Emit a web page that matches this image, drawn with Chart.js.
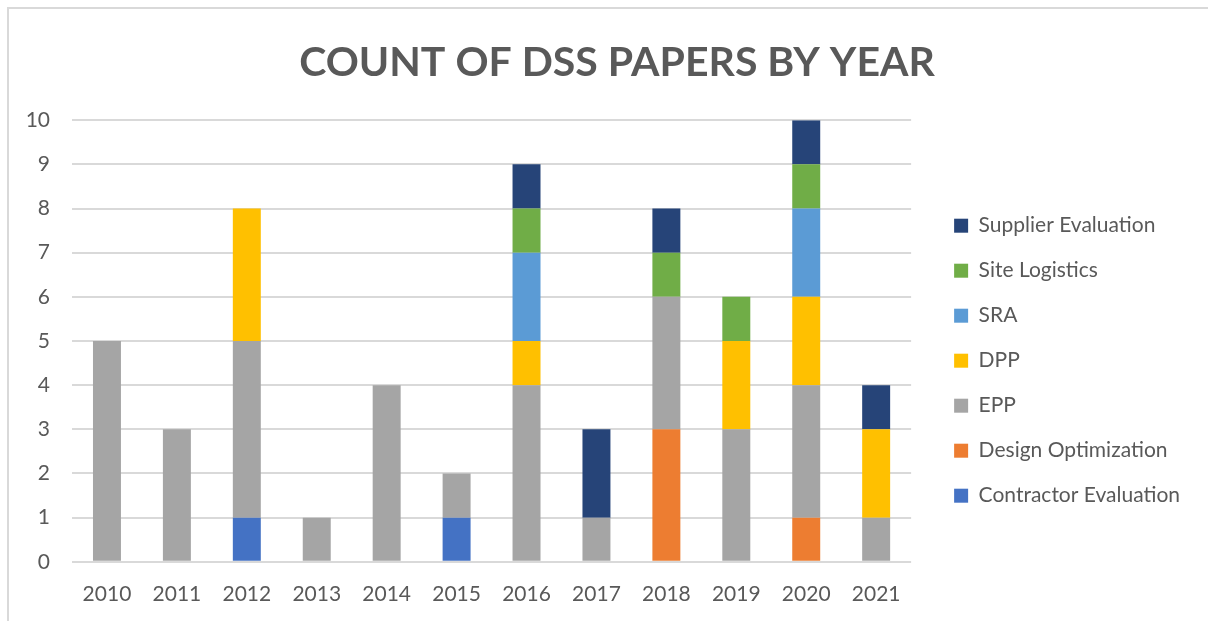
<!DOCTYPE html>
<html>
<head>
<meta charset="utf-8">
<script src="https://cdn.jsdelivr.net/npm/chart.js@4.4.0/dist/chart.umd.min.js"></script>
<style>
  html, body { margin: 0; padding: 0; background: #fff; }
  #wrap { position: relative; width: 1208px; height: 621px; overflow: hidden; }
  #frame { position: absolute; left: 7px; top: 7px; width: 1300px; height: 700px;
           border-left: 2px solid #d9d9d9; border-top: 2px solid #d9d9d9; }
  canvas { position: absolute; left: 0; top: 0; }
</style>
</head>
<body>
<div id="wrap">
  <div id="frame"></div>
  <canvas id="chart" width="1208" height="621"></canvas>
</div>
<script>
// years on the x axis
const years = ['2010', '2011', '2012', '2013', '2014', '2015', '2016', '2017', '2018', '2019', '2020', '2021'];

// paper counts per category, bottom of the stack first
const contractorEvaluation = [0, 0, 1, 0, 0, 1, 0, 0, 0, 0, 0, 0];
const designOptimization   = [0, 0, 0, 0, 0, 0, 0, 0, 3, 0, 1, 0];
const epp                  = [5, 3, 4, 1, 4, 1, 4, 1, 3, 3, 3, 1];
const dpp                  = [0, 0, 3, 0, 0, 0, 1, 0, 0, 2, 2, 2];
const sra                  = [0, 0, 0, 0, 0, 0, 2, 0, 0, 0, 2, 0];
const siteLogistics        = [0, 0, 0, 0, 0, 0, 1, 0, 1, 1, 1, 0];
const supplierEvaluation   = [0, 0, 0, 0, 0, 0, 1, 2, 1, 0, 1, 1];

const yTicks = [0, 1, 2, 3, 4, 5, 6, 7, 8, 9, 10];

const FONT = 'Lato, "Open Sans", sans-serif';
const TEXT = '#595959';

function series(label, data, color) {
    return {
        label: label,
        data: data,
        backgroundColor: color,
        borderWidth: 0,
        barPercentage: 0.4,
        categoryPercentage: 1.0
    };
}

// pulls the legend left and leaves a blank strip between plot and legend
const legendShift = 18;
const plotGap = 19;
const legendGap = {
    id: 'legendGap',
    afterLayout(chart) {
        const lg = chart.legend;
        lg.left -= legendShift;
        lg.right -= legendShift;
        const area = chart.chartArea;
        area.right = lg.left - plotGap;
        area.width = area.right - area.left;
        const xs = chart.scales.x;
        xs.right = area.right;
        xs.width = area.width;
        xs.configure();
    }
};

const ctx = document.getElementById('chart');
new Chart(ctx, {
    type: 'bar',
    data: {
        labels: years,
        datasets: [
            series('Contractor Evaluation', contractorEvaluation, '#4472C4'),
            series('Design Optimization', designOptimization, '#ED7D31'),
            series('EPP', epp, '#A5A5A5'),
            series('DPP', dpp, '#FFC000'),
            series('SRA', sra, '#5B9BD5'),
            series('Site Logistics', siteLogistics, '#70AD47'),
            series('Supplier Evaluation', supplierEvaluation, '#264478')
        ]
    },
    plugins: [legendGap],
    options: {
        responsive: false,
        animation: false,
        layout: { padding: { left: 26, top: 38, right: 0, bottom: -6 } },
        plugins: {
            title: {
                display: true,
                text: 'COUNT OF DSS PAPERS BY YEAR',
                color: TEXT,
                font: { family: FONT, size: 41, weight: 'bold' },
                padding: { top: 0, bottom: 33 }
            },
            legend: {
                position: 'right',
                reverse: true,
                // empty title only pushes the entries down
                title: { display: true, text: '', font: { size: 12 }, padding: { top: 42, bottom: 0 } },
                labels: {
                    color: TEXT,
                    font: { family: FONT, size: 21 },
                    boxWidth: 14,
                    boxHeight: 14,
                    padding: 24
                }
            },
            tooltip: { enabled: false }
        },
        scales: {
            x: {
                stacked: true,
                grid: { display: false, drawTicks: false },
                border: { display: false },
                ticks: { color: TEXT, font: { family: FONT, size: 21 }, padding: 20 }
            },
            y: {
                stacked: true,
                min: 0,
                max: 10,
                afterBuildTicks: function(scale) {
                    scale.ticks = yTicks.map(v => ({ value: v }));
                },
                afterFit: function(scale) { scale.width = 46; },
                grid: { color: '#d9d9d9', lineWidth: 2, drawTicks: false },
                border: { display: false },
                ticks: { color: TEXT, font: { family: FONT, size: 21 }, padding: 22 }
            }
        }
    }
});
</script>
</body>
</html>
